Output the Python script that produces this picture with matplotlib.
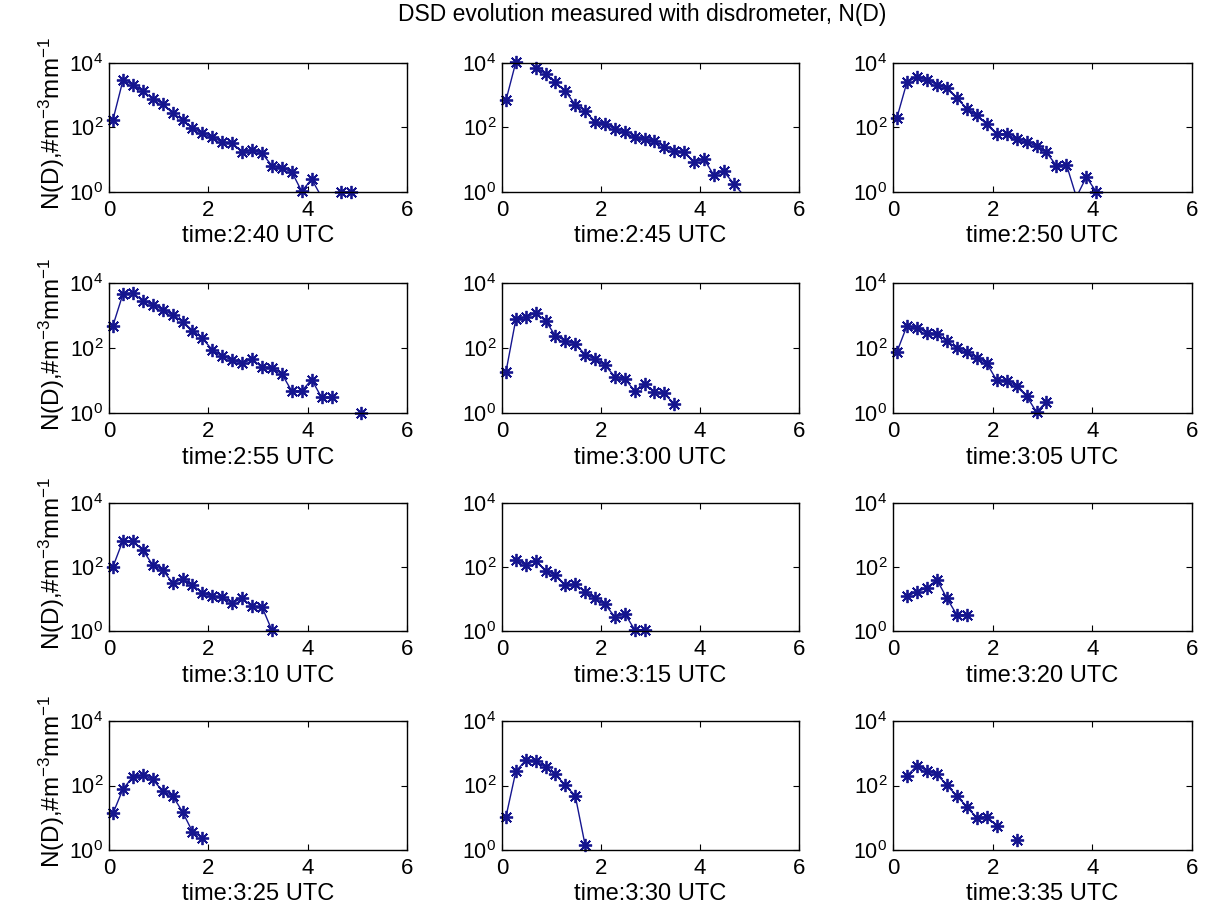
import numpy as np
import matplotlib
matplotlib.use("Agg")
import matplotlib.pyplot as plt
from matplotlib.ticker import NullLocator, FixedLocator

plt.rcParams['font.family'] = ['Liberation Sans', 'DejaVu Sans']
plt.rcParams['mathtext.fontset'] = 'custom'
plt.rcParams['mathtext.rm'] = 'Liberation Sans'
plt.rcParams['mathtext.it'] = 'Liberation Sans:italic'

# --- disdrometer bin centres (mm) ---
D = [0.08, 0.28, 0.48, 0.68, 0.88, 1.08, 1.28, 1.48, 1.68, 1.88, 2.08, 2.28, 2.48,
     2.68, 2.88, 3.08, 3.28, 3.48, 3.68, 3.88, 4.08, 4.28, 4.48, 4.68, 4.88, 5.08]

times = ['2:40', '2:45', '2:50', '2:55', '3:00', '3:05',
         '3:10', '3:15', '3:20', '3:25', '3:30', '3:35']

nan = np.nan
# N(D) per time step, #m^-3 mm^-1 (nan = no drops in that bin)
n_0240 = [174, 2880, 2150, 1330, 790, 550, 280, 174, 95, 66, 49, 36, 32, 18, 20, 16,
          6.5, 5.6, 4.2, 1.05, 2.5, 0.7, nan, 1.0, 1.0]
n_0245 = [695, 10700, 15000, 7100, 4650, 2550, 1330, 510, 330, 147, 127, 91, 70, 49,
          44, 38, 25, 19, 17, 8.7, 10.5, 3.3, 4.4, 1.8, 0.8]
n_0250 = [204, 2550, 3650, 2950, 2150, 1620, 830, 385, 237, 127, 62, 63, 43, 35, 27,
          17, 6.5, 7.1, 0.7, 2.9, 1.0]
n_0255 = [490, 4570, 4900, 2850, 2140, 1510, 1050, 650, 345, 200, 87, 56, 43, 34, 45,
          26, 25, 16, 4.7, 4.7, 10.7, 3.0, 3.0, nan, nan, 1.0]
n_0300 = [18.5, 770, 890, 1180, 690, 235, 170, 133, 63, 45, 30, 13, 11.5, 4.7, 7.7,
          4.5, 4.0, 1.85]
n_0305 = [77, 480, 425, 295, 270, 165, 98, 73, 51, 34, 10.2, 9.8, 6.7, 3.3, 1.07, 2.2]
n_0310 = [102, 670, 630, 340, 115, 81, 32, 41, 27, 15.6, 12.3, 11.2, 7.6, 10.4, 5.9,
          5.7, 1.05]
n_0315 = [nan, 166, 115, 158, 76, 56, 27, 29, 16.8, 10.4, 6.9, 2.75, 3.5, 1.1, 1.1]
n_0320 = [nan, 12, 17, 22, 40, 10.7, 3.2, 3.2]
n_0325 = [13.6, 77, 185, 210, 157, 66, 48, 15.3, 3.7, 2.4]
n_0330 = [10.7, 275, 605, 560, 380, 220, 102, 48, 1.4]
n_0335 = [nan, 200, 405, 290, 225, 102, 48, 22, 10, 10.7, 5.7, nan, 2.0]

series = [n_0240, n_0245, n_0250, n_0255, n_0300, n_0305,
          n_0310, n_0315, n_0320, n_0325, n_0330, n_0335]

# --- layout (figure pixels, MATLAB-like subplot grid) ---
W, H = 1206, 914
col_x = [(109, 407), (502, 799), (893, 1192)]
row_y = [(63, 192), (283, 413), (503, 631), (721, 850)]

color = '#15158f'
fs = 16

fig = plt.figure(figsize=(W / 100, H / 100), dpi=100)
fig.patch.set_facecolor('white')

for i, (t, n) in enumerate(zip(times, series)):
    r, c = divmod(i, 3)
    x0, x1 = col_x[c]
    y0, y1 = row_y[r]
    ax = fig.add_axes([x0 / W, 1 - y1 / H, (x1 - x0) / W, (y1 - y0) / H])
    d = np.array(D[:len(n)])
    v = np.array(n, dtype=float)
    ax.semilogy(d, v, '-', color=color, lw=1.0)
    vis = (v >= 0.9) & (v <= 1.12e4)
    ax.semilogy(d[vis], v[vis], linestyle='none', marker=(8, 2, 0), ms=9.5,
                mew=1.3, color=color, clip_on=False)
    ax.set_xlim(0, 6)
    ax.set_ylim(1, 1e4)
    ax.xaxis.set_major_locator(FixedLocator([0, 2, 4, 6]))
    ax.yaxis.set_major_locator(FixedLocator([1, 1e2, 1e4]))
    ax.yaxis.set_minor_locator(NullLocator())
    ax.tick_params(direction='in', top=True, right=True, length=4, width=0.8,
                   labelsize=fs)
    ax.tick_params(axis='x', pad=6)
    ax.tick_params(axis='y', pad=4, labelsize=15.5)
    for s in ax.spines.values():
        s.set_linewidth(1.0)
    ax.set_xlabel(f'time:{t} UTC', fontsize=17, labelpad=3)
    if c == 0:
        ax.set_ylabel('N(D),#m$^{-3}$mm$^{-1}$', fontsize=17.5)
        ax.yaxis.set_label_coords(-42 / (x1 - x0), 0.53)

fig.text(642 / W, 1 - 15 / H, 'DSD evolution measured with disdrometer, N(D)',
         ha='center', va='center', fontsize=16.5)

fig.savefig('out.png', dpi=100, facecolor='white')
